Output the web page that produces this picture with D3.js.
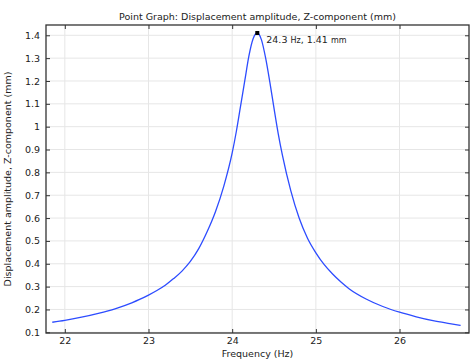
<!DOCTYPE html>
<html>
<head>
<meta charset="utf-8">
<script src="https://cdn.jsdelivr.net/npm/d3@7"></script>
<style>
  body { margin: 0; background: #fff; }
  svg { font-family: "DejaVu Sans", sans-serif; }
</style>
</head>
<body>
<svg id="drawing_region"></svg>
<script>
// frequency (Hz) and displacement amplitude, z-component (mm)
const freq = [21.85, 22.0, 22.2, 22.4, 22.6, 22.8, 22.9, 23.0, 23.1, 23.2, 23.3, 23.4, 23.5,
              23.6, 23.7, 23.8, 23.9, 24.0, 24.05, 24.1, 24.15, 24.2, 24.25,
              24.3, 24.35, 24.4, 24.45, 24.5, 24.55, 24.6, 24.7, 24.8, 24.9,
              25.0, 25.1, 25.2, 25.3, 25.4, 25.6, 25.8, 26.0, 26.2, 26.4, 26.6, 26.73];
const amp = [0.144, 0.152, 0.166, 0.183, 0.203, 0.229, 0.245, 0.263, 0.283, 0.306, 0.335, 0.368, 0.41,
             0.466, 0.54, 0.628, 0.74, 0.885, 0.98, 1.09, 1.2, 1.31, 1.385,
             1.41, 1.38, 1.3, 1.195, 1.08, 0.97, 0.875, 0.72, 0.6, 0.512,
             0.448, 0.396, 0.355, 0.32, 0.29, 0.246, 0.213, 0.188, 0.168, 0.151, 0.138, 0.13];
const xTicks = [22, 23, 24, 25, 26];
const yTicks = [0.1, 0.2, 0.3, 0.4, 0.5, 0.6, 0.7, 0.8, 0.9, 1, 1.1, 1.2, 1.3, 1.4];
const peakF = 24.3, peakA = 1.41;

const width = 476, height = 360;
const margin = {top: 25, right: 7, bottom: 27, left: 46};
const inner_width = width - margin.left - margin.right;
const inner_height = height - margin.top - margin.bottom;

const svg = d3.select('#drawing_region')
    .attr('width', width)
    .attr('height', height);

const chart = svg.append('g')
    .attr('transform', `translate(${margin.left}, ${margin.top})`);

const xscale = d3.scaleLinear()
    .domain([21.775, 26.83])
    .range([0, inner_width]);
const yscale = d3.scaleLinear()
    .domain([0.097, 1.445])
    .range([inner_height, 0]);

// grid
chart.append('g').selectAll('line').data(xTicks).enter()
    .append('line')
    .attr('x1', d => xscale(d)).attr('x2', d => xscale(d))
    .attr('y1', 0).attr('y2', inner_height)
    .attr('stroke', '#e6e6e6').attr('stroke-width', 1);
chart.append('g').selectAll('line').data(yTicks).enter()
    .append('line')
    .attr('x1', 0).attr('x2', inner_width)
    .attr('y1', d => yscale(d)).attr('y2', d => yscale(d))
    .attr('stroke', '#e6e6e6').attr('stroke-width', 1);

// axes, ticks pointing inward on all sides
chart.append('g')
    .attr('transform', `translate(0, ${inner_height})`)
    .call(d3.axisBottom(xscale).tickValues(xTicks).tickSize(-4).tickSizeOuter(0).tickPadding(4).tickFormat(d3.format('')));
chart.append('g')
    .call(d3.axisLeft(yscale).tickValues(yTicks).tickSize(-4).tickSizeOuter(0).tickPadding(6).tickFormat(d3.format('')));
chart.append('g')
    .call(d3.axisTop(xscale).tickValues(xTicks).tickSize(-4).tickSizeOuter(0).tickFormat(''));
chart.append('g')
    .attr('transform', `translate(${inner_width}, 0)`)
    .call(d3.axisRight(yscale).tickValues(yTicks).tickSize(-4).tickSizeOuter(0).tickFormat(''));

chart.selectAll('.domain').remove();
chart.selectAll('.tick line').attr('stroke', '#333');
chart.selectAll('.tick text').attr('font-size', 9.5).attr('fill', '#222')
    .attr('font-family', '"DejaVu Sans", sans-serif');

chart.append('rect')
    .attr('width', inner_width).attr('height', inner_height)
    .attr('fill', 'none').attr('stroke', '#333').attr('stroke-width', 1.3);

// curve
const points = freq.map((f, i) => [f, amp[i]]);
chart.append('path')
    .datum(points)
    .attr('fill', 'none')
    .attr('stroke', '#2d4cff')
    .attr('stroke-width', 1.3)
    .attr('d', d3.line().x(d => xscale(d[0])).y(d => yscale(d[1])).curve(d3.curveMonotoneX));

// peak marker and label
chart.append('rect')
    .attr('x', xscale(peakF) - 2).attr('y', yscale(peakA) - 2)
    .attr('width', 4).attr('height', 4).attr('fill', '#000');
const lbl = chart.append('text')
    .attr('x', xscale(peakF) + 9).attr('y', yscale(peakA) + 10)
    .attr('font-size', 9.5).attr('fill', '#222');
lbl.append('tspan').text('24.3 ');
lbl.append('tspan').attr('font-size', 8).text('Hz');
lbl.append('tspan').text(', 1.41 ');
lbl.append('tspan').attr('font-size', 8).text('mm');

// titles
svg.append('text')
    .attr('x', margin.left + inner_width / 2).attr('y', 19.5)
    .attr('text-anchor', 'middle').attr('font-size', 9.5).attr('fill', '#222')
    .text('Point Graph: Displacement amplitude, Z-component (mm)');
svg.append('text')
    .attr('x', margin.left + inner_width / 2).attr('y', 356.5)
    .attr('text-anchor', 'middle').attr('font-size', 9.5).attr('fill', '#222')
    .text('Frequency (Hz)');
svg.append('text')
    .attr('transform', `translate(11, ${margin.top + inner_height / 2}) rotate(-90)`)
    .attr('text-anchor', 'middle').attr('font-size', 9.5).attr('fill', '#222')
    .text('Displacement amplitude, Z-component (mm)');
</script>
</body>
</html>
